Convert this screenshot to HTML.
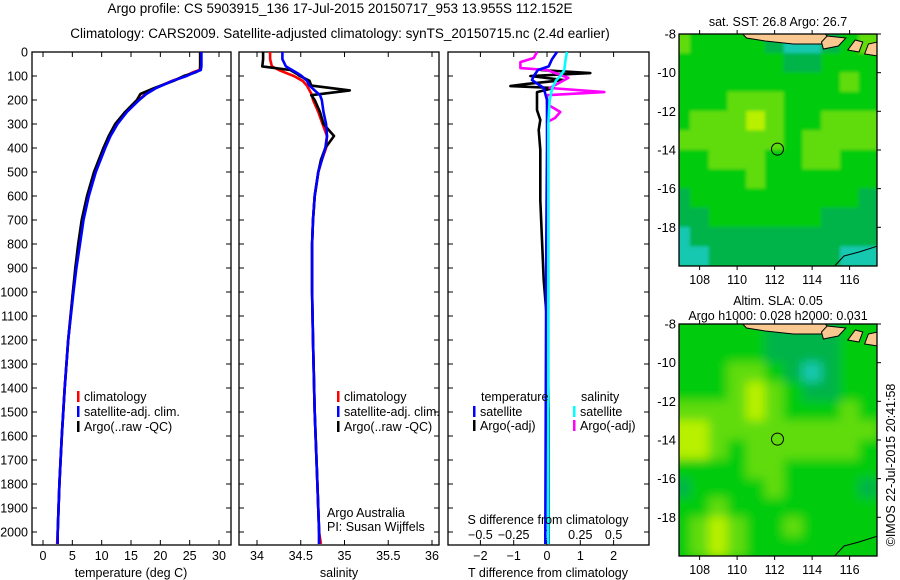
<!DOCTYPE html>
<html><head><meta charset="utf-8"><style>
html,body{margin:0;padding:0;background:#fff;}
svg{display:block;font-family:"Liberation Sans",sans-serif;}
text{font-size:12.5px;fill:#000;}
</style></head><body>
<svg id="c" width="900" height="580" viewBox="0 0 900 580" xmlns="http://www.w3.org/2000/svg">
<defs><filter id="bl" x="0" y="0" width="1" height="1"><feGaussianBlur stdDeviation="5"/></filter>
<filter id="bl1" x="0" y="0" width="1" height="1"><feGaussianBlur stdDeviation="1.5"/></filter>
<clipPath id="cm1"><rect x="679" y="34" width="198" height="232"/></clipPath>
<clipPath id="cm2"><rect x="679" y="324" width="198" height="232"/></clipPath></defs>
<text x="340" y="13" text-anchor="middle" style="font-size:13.5px">Argo profile: CS 5903915_136 17-Jul-2015 20150717_953 13.955S 112.152E</text>
<text x="340" y="38" text-anchor="middle" style="font-size:13.5px">Climatology: CARS2009. Satellite-adjusted climatology: synTS_20150715.nc (2.4d earlier)</text>
<g id="g"></g>
</svg>
<script>
// ---- data ----
const tDepth=[0,60,75,85,100,120,150,175,200,250,300,350,400,500,600,700,800,900,1000,1200,1400,1600,1800,2000,2050];
const tClim=[26.8,26.8,26.7,25.5,24.3,22,19.2,17.5,16.3,14.2,12.6,11.4,10.5,8.9,7.7,6.8,6.2,5.6,5.1,4.3,3.7,3.2,2.8,2.5,2.4];
const tSat=[27.0,27.0,26.9,25.8,24.5,22.1,19.3,17.6,16.4,14.3,12.7,11.5,10.6,9.0,7.8,6.9,6.3,5.7,5.2,4.3,3.7,3.2,2.8,2.5,2.5];
const tArgo=[26.8,26.8,26.8,26.0,24.0,22.3,19.0,16.6,16.0,14.0,12.3,11.2,10.3,8.7,7.5,6.6,6.0,5.5,5.1,4.3,3.7,3.2,2.8,2.5,2.5];
const sDepth=[0,30,60,75,90,100,120,140,160,180,200,250,300,350,400,450,500,600,700,800,1000,1200,1500,1800,2000,2050];
const sClim=[34.15,34.15,34.17,34.25,34.35,34.42,34.52,34.57,34.6,34.63,34.64,34.7,34.75,34.8,34.79,34.74,34.7,34.66,34.64,34.63,34.63,34.64,34.66,34.69,34.71,34.73];
const sSat=[34.29,34.29,34.33,34.4,34.47,34.51,34.57,34.6,34.66,34.72,34.74,34.76,34.79,34.8,34.78,34.74,34.7,34.66,34.64,34.63,34.63,34.64,34.66,34.69,34.71,34.71];
const sArgo=[34.07,34.07,34.06,34.38,34.45,34.49,34.6,34.62,35.06,34.62,34.66,34.72,34.76,34.88,34.78,34.73,34.7,34.66,34.64,34.63,34.63,34.64,34.66,34.69,34.71,34.71];
const dTDepth=[75,88,100,117,133,142,150,167,200,242,283,325,408,492,617,783,950,1117,1500,2000,2050];
const dTArgo=[-0.2,1.3,-0.5,0.5,-0.6,-1.1,0.2,-0.3,-0.3,-0.3,-0.2,-0.25,-0.2,-0.2,-0.2,-0.15,-0.1,0,0.05,0.05,0.05];
const dTSatDepth=[0,30,60,75,100,117,150,200,400,800,1200,2050];
const dTSat=[0.3,0.15,0.05,-0.27,-0.4,-0.45,-0.1,0,0,-0.02,-0.03,-0.05];
const dSSatDepth=[0,30,75,100,117,150,200,300,400,2050];
const dSSat=[0.15,0.14,0.13,0.1,0.07,0.04,0.02,0.01,0.01,0.01];
const dSArgoDepth=[0,25,42,67,75,108,150,167,180,217,250,275,292,325,400,2050];
const dSArgo=[-0.075,-0.1,-0.2,-0.2,0,0.16,0.02,0.43,0.0,0.0,0.1,0.06,0.0,0.01,0.01,0.01];
const depthTicks=[0,100,200,300,400,500,600,700,800,900,1000,1100,1200,1300,1400,1500,1600,1700,1800,1900,2000];
const tTicks=[0,5,10,15,20,25,30];
const sTicks=[34,34.5,35,35.5,36];
const dTTicks=[-2,-1,0,1,2];
const dSTicks=[-0.5,-0.25,0,0.25,0.5];
const lonTicks=[108,110,112,114,116];
const latTicks=[-8,-10,-12,-14,-16,-18];
const mapLats=[-8.5,-9.5,-10.5,-11.5,-12.5,-13.5,-14.5,-15.5,-16.5,-17.5,-18.5,-19.5];
const mapLons=[107,108,109,110,111,112,113,114,115,116,117];
const sstGrid=[[3,2,2,2,2,1,0,0,1,2,3],[2,2,2,2,2,2,1,1,2,2,2],[2,2,2,2,2,2,2,2,2,3,2],[2,2,2,3,3,3,2,2,2,2,2],[2,3,3,3,4,3,2,2,3,3,3],[3,3,3,3,3,3,2,3,3,3,3],[2,2,3,3,3,2,2,3,3,2,2],[2,2,2,2,3,2,2,2,2,2,2],[1,2,2,2,2,2,2,2,2,2,1],[1,1,2,2,2,2,2,2,1,1,1],[0,1,1,1,1,1,1,1,1,1,1],[0,0,1,1,1,1,1,1,1,0,0]];
const slaGrid=[[2,2,2,2,2,1,1,1,1,2,2],[2,2,2,2,2,1,1,1,1,2,2],[2,2,2,3,3,2,1,0,1,2,2],[2,2,2,3,4,3,2,1,1,2,2],[3,3,3,3,4,3,2,2,2,3,2],[4,4,3,3,3,3,3,3,3,3,3],[4,4,3,2,3,3,3,3,3,3,2],[2,2,2,2,3,3,2,2,2,2,2],[1,2,2,2,2,3,2,2,2,2,1],[2,2,3,2,2,2,2,2,2,2,2],[2,3,4,3,2,2,3,2,2,2,2],[2,3,4,3,2,2,2,2,2,2,2]];
const argoLat=-13.955, argoLon=112.152;

const NS="http://www.w3.org/2000/svg", G=document.getElementById('g');
function mk(t,a,p){const e=document.createElementNS(NS,t);for(const k in a)e.setAttribute(k,a[k]);(p||G).appendChild(e);return e;}
function tx(x,y,s,anc,name,extra){const e=mk('text',Object.assign({x:x,y:y,'text-anchor':anc||'start'},extra||{}));e.textContent=s;


return e;}
const Y=d=>52+d*0.24;
const P1={x0:32,x1:231}, P2={x0:239,x1:439}, P3={x0:448,x1:649};
const xT=v=>43+v*5.867, xS=v=>257+(v-34)*87.5, xDT=v=>547+v*33.3, xDS=v=>547+v*133.2;
function frame(P,name){const r=mk('rect',{x:P.x0,y:52,width:P.x1-P.x0,height:493,fill:'none',stroke:'#000','stroke-width':1.3});


depthTicks.forEach(d=>{mk('line',{x1:P.x0,x2:P.x0+5,y1:Y(d),y2:Y(d),stroke:'#000'});mk('line',{x1:P.x1-5,x2:P.x1,y1:Y(d),y2:Y(d),stroke:'#000'});});}
function xticks(arr,f,lbl,name){arr.forEach(v=>{const x=f(v);mk('line',{x1:x,x2:x,y1:52,y2:57,stroke:'#000'});mk('line',{x1:x,x2:x,y1:540,y2:545,stroke:'#000'});
if(lbl)tx(x,560,String(v).replace('-','\u2212'),'middle',name);});}
function line(xs,ds,fx,col,name,w){const pts=xs.map((v,i)=>fx(v).toFixed(1)+','+Y(ds[i]).toFixed(1)).join(' ');
const e=mk('polyline',{points:pts,fill:'none',stroke:col,'stroke-width':w||2.6,'stroke-linejoin':'round'});

}
// panel 1
frame(P1,'temperature-panel');
depthTicks.forEach(d=>tx(28,Y(d)+4.5,String(d),'end','depth-tick-label'));
xticks(tTicks,xT,true,'temperature-tick-label');
line(tClim,tDepth,xT,'#f00','temp-climatology-line');
line(tArgo,tDepth,xT,'#000','temp-argo-line');
line(tSat,tDepth,xT,'#00f','temp-satellite-line');
tx(131,577,'temperature (deg C)','middle','temperature-axis-title');
// panel 2
frame(P2,'salinity-panel');
xticks(sTicks,xS,true,'salinity-tick-label');
line(sClim,sDepth,xS,'#f00','sal-climatology-line');
line(sArgo,sDepth,xS,'#000','sal-argo-line');
line(sSat,sDepth,xS,'#00f','sal-satellite-line');
tx(339,577,'salinity','middle','salinity-axis-title');
tx(327,517,'Argo Australia','start','credit-argo-australia');
tx(327,531,'PI: Susan Wijffels','start','credit-pi');
// legends
function leg(x,y,col,s,name){mk('rect',{x:x,y:y-10,width:2.5,height:11,fill:col});tx(x+7,y,s,'start',name);}
[[P1,77],[P2,337]].forEach(([P,x])=>{leg(x,401,'#f00','climatology','legend-climatology');leg(x,416,'#00f','satellite-adj. clim.','legend-satellite-adj');leg(x,431,'#000','Argo(..raw -QC)','legend-argo');});
// panel 3
frame(P3,'difference-panel');
xticks(dTTicks,xDT,true,'t-diff-tick-label');
dSTicks.forEach(v=>tx(xDS(v),539,String(v).replace('-','\u2212'),'middle','s-diff-tick-label'));
line(dTArgo,dTDepth,xDT,'#000','t-diff-argo-line');
line(dSArgo,dSArgoDepth,xDS,'#f0f','s-diff-argo-line');
line(dTSat,dTSatDepth,xDT,'#00f','t-diff-satellite-line');
line(dSSat,dSSatDepth,xDS,'#0ff','s-diff-satellite-line');
tx(548,524,'S difference from climatology','middle','s-diff-axis-title');
tx(548,577,'T difference from climatology','middle','t-diff-axis-title');
tx(481,401,'temperature','start','legend-temperature-heading');
tx(581,401,'salinity','start','legend-salinity-heading');
leg(473,416,'#00f','satellite','legend-t-satellite');leg(473,430,'#000','Argo(-adj)','legend-t-argo');
leg(573,416,'#0ff','satellite','legend-s-satellite');leg(573,430,'#f0f','Argo(-adj)','legend-s-argo');
// maps
const cols=['#18c8b0','#00b448','#00cc10','#60dc10','#b8f000'];
const lonX=v=>679+(v-106.9)*18.75;
function map(top,grid,blur,name,clip){const mY=v=>top+(-8-v)*19.33;
const g=mk('g',{'clip-path':'url(#'+clip+')'});const inner=mk('g',{filter:blur?'url(#bl)':'url(#bl1)'},g);
mk('rect',{x:669,y:top-10,width:218,height:252,fill:cols[2]},inner);
grid.forEach((row,i)=>row.forEach((v,j)=>{const r=mk('rect',{x:lonX(mapLons[j]-0.5)-0.3,y:mY(mapLats[i]+0.5)-0.3,width:19.4,height:20,fill:cols[v]},inner);

}));
// land
mk('path',{d:`M${lonX(110.3)},${top} L${lonX(110.5)},${top+4} L${lonX(111.5)},${top+7} L${lonX(113)},${top+10} L${lonX(114.5)},${top+10} L${lonX(115)},${top+6} L${lonX(114.7)},${top} Z`,fill:'#f8c890',stroke:'#000','stroke-width':1},g);
mk('path',{d:`M${lonX(114.8)},${top+2} L${lonX(115.8)},${top+4} L${lonX(115.4)},${top+12} L${lonX(114.6)},${top+15} L${lonX(114.5)},${top+8} Z`,fill:'#f8c890',stroke:'#000','stroke-width':1},g);
mk('path',{d:`M${lonX(115.9)},${top+16} L${lonX(116.3)},${top+6} L${lonX(116.7)},${top+8} L${lonX(116.5)},${top+18} Z`,fill:'#f8c890',stroke:'#000','stroke-width':1},g);
mk('path',{d:`M${lonX(116.8)},${top+20} L${lonX(117)},${top+10} L${lonX(117.5)},${top+8} L${lonX(117.5)},${top+22} Z`,fill:'#f8c890',stroke:'#000','stroke-width':1},g);
mk('path',{d:`M${lonX(115.2)},${top+232} L${lonX(115.7)},${top+222} L${lonX(116.5)},${top+218} L${lonX(117.5)},${top+212}`,fill:'none',stroke:'#000','stroke-width':1},g);
const fr=mk('rect',{x:679,y:top,width:198,height:232,fill:'none',stroke:'#000','stroke-width':1.3});


lonTicks.forEach(v=>{const x=lonX(v);mk('line',{x1:x,x2:x,y1:top,y2:top-4,stroke:'#000'});mk('line',{x1:x,x2:x,y1:top+232,y2:top+236,stroke:'#000'});tx(x,top+250,String(v),'middle','map-lon-label');});
latTicks.forEach(v=>{const y=mY(v);mk('line',{x1:877,x2:881,y1:y,y2:y,stroke:'#000'});tx(676,y+4.5,String(v),'end','map-lat-label',{style:'font-size:13px'});});
const c=mk('circle',{cx:lonX(argoLon),cy:mY(argoLat),r:6,fill:'none',stroke:'#000','stroke-width':1});

}
map(34,sstGrid,false,'sst-map','cm1');
map(324,slaGrid,true,'sla-map','cm2');
tx(778,26,'sat. SST: 26.8 Argo: 26.7','middle','sst-map-title');
tx(778,305,'Altim. SLA: 0.05','middle','sla-map-title');
tx(778,320,'Argo h1000: 0.028 h2000: 0.031','middle','sla-map-subtitle');
tx(0,0,'\u00a9IMOS 22-Jul-2015 20:41:58','middle','timestamp',{transform:'translate(895,465) rotate(-90)'});
</script>
</body></html>
